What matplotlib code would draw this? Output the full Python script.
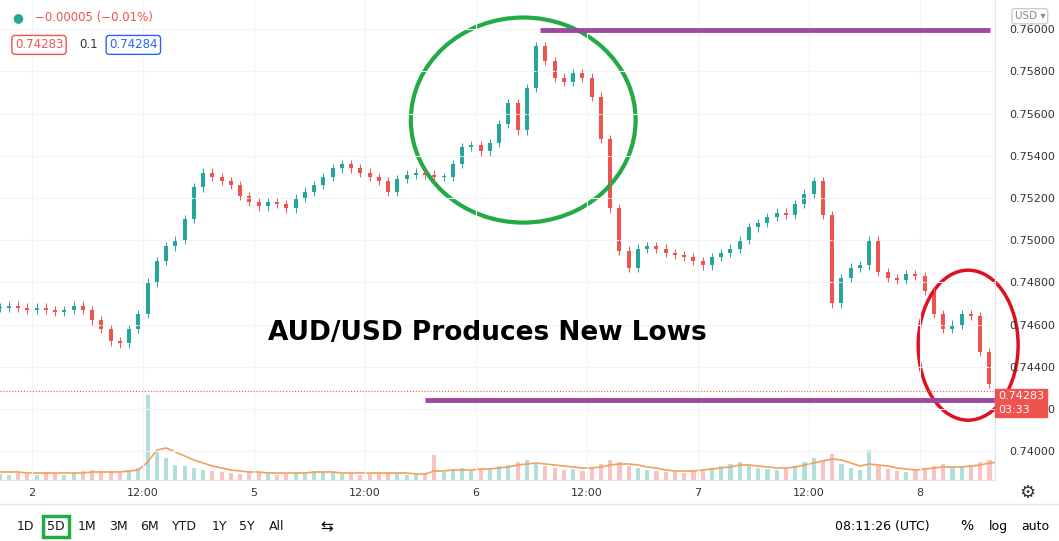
import matplotlib.pyplot as plt
from matplotlib.patches import Ellipse, Rectangle
import numpy as np

# hourly closes, first candle at hour -3.5 (hour 0 = day "2" 00:00)
closes = [.7468, .7469, .7468, .7467, .7468, .7467, .7466, .7467, .7469, .7467,
          .7462, .7458, .7452, .7451, .7458, .7465, .7480, .7490, .7497, .7500,
          .7510, .7525, .7532, .7530, .7528, .7526, .7521, .7518, .7516, .7518,
          .7517, .7515, .7520, .7523, .7526, .7530, .7534, .7536, .7534, .7532,
          .7530, .7528, .7523, .7529, .7531, .7532, .7531, .7530, .7530, .7536,
          .7544, .7545, .7542, .7546, .7555, .7565, .7552, .7572, .7592, .7585,
          .7577, .7575, .7579, .7577, .7568, .7548, .7515, .7495, .7487, .7496,
          .7497, .7496, .7494, .7493, .7492, .7490, .7488, .7492, .7494, .7496,
          .7500, .7506, .7508, .7511, .7513, .7512, .7517, .7522, .7528, .7512,
          .7470, .7482, .7487, .7488, .7500, .7485, .7482, .7481, .7484, .7483,
          .7476, .7465, .7458, .7460, .7465, .7464, .7447, .7432, .7428]
volume = [6, 5, 7, 6, 5, 8, 6, 5, 7, 9, 10, 8, 9, 7, 10, 12, 85, 28, 22, 15,
          14, 12, 10, 9, 8, 7, 6, 8, 7, 6, 5, 6, 7, 8, 9, 8, 7, 6, 6, 5,
          6, 7, 8, 6, 5, 5, 6, 25, 8, 10, 12, 9, 11, 10, 14, 15, 18, 20, 16, 14,
          12, 10, 11, 9, 12, 16, 20, 18, 14, 12, 10, 9, 8, 8, 7, 9, 10, 12, 14, 16,
          18, 14, 12, 11, 10, 12, 14, 18, 22, 20, 26, 16, 12, 10, 30, 14, 11, 9, 8, 10,
          12, 14, 16, 12, 13, 15, 18, 20, 22]
vol_ma = [8, 8, 8, 7, 7, 7, 7, 7, 7, 7, 8, 8, 8, 8, 9, 10, 18, 30, 32, 28,
          24, 20, 17, 14, 12, 10, 9, 8, 8, 7, 7, 7, 7, 7, 8, 8, 8, 7, 7, 7,
          7, 7, 7, 7, 7, 6, 6, 9, 9, 10, 10, 10, 11, 11, 12, 13, 15, 16, 17, 16,
          15, 14, 13, 12, 12, 13, 15, 16, 16, 15, 13, 12, 10, 9, 9, 9, 10, 11, 12, 13,
          15, 15, 14, 13, 12, 12, 13, 15, 17, 19, 21, 20, 17, 14, 16, 15, 14, 12, 11, 10,
          11, 12, 13, 13, 13, 14, 15, 17, 18]
x_ticks = [0, 12, 24, 36, 48, 60, 72, 84, 96]
x_labels = ['2', '12:00', '5', '12:00', '6', '12:00', '7', '12:00', '8']
y_ticks = [0.740, 0.742, 0.744, 0.746, 0.748, 0.750, 0.752, 0.754, 0.756, 0.758, 0.760]
last_price = 0.74283

up, down = '#26a69a', '#ef5350'
hours = -3.5 + np.arange(len(closes))
opens = [closes[0]] + closes[:-1]

fig = plt.figure(figsize=(10.59, 5.41), dpi=100)
ax = fig.add_axes([0, 61 / 541, 995 / 1059, 480 / 541])
vax = ax.twinx()
vax.set_ylim(0, 480)
vax.axis('off')
ax.set_zorder(vax.get_zorder() + 1)
ax.patch.set_visible(False)

for h, o, c, v in zip(hours, opens, closes, volume):
    col = up if c >= o else down
    ax.vlines(h, min(o, c) - 0.0002, max(o, c) + 0.0002, color=col, lw=0.7)
    ax.add_patch(Rectangle((h - 0.22, min(o, c)), 0.44, max(abs(c - o), 0.00003),
                           color=col, lw=0))
    vax.bar(h, v, width=0.45, color=col, alpha=0.35)
vax.plot(hours, vol_ma, color='#f0a060', lw=1.2)

ax.set_xlim(-3.46, 104.1)
ax.set_ylim(0.73863, 0.76138)
ax.set_xticks(x_ticks)
ax.set_xticklabels(x_labels)
ax.set_yticks(y_ticks)
ax.set_yticklabels(['%.5f' % t for t in y_ticks])
ax.yaxis.tick_right()
ax.tick_params(length=0, labelsize=8, labelcolor='#333333')
ax.tick_params(axis='y', pad=10)
ax.tick_params(axis='x', pad=6)
ax.grid(True, color='#f0f3fa', lw=0.8)
for s in ax.spines.values():
    s.set_color('#e0e3eb')
ax.spines['top'].set_visible(False)
ax.spines['left'].set_visible(False)

# annotations
ax.add_patch(Ellipse((53.1, 0.75569), 24.3, 0.00972, fill=False, ec='#22aa44', lw=3))
ax.add_patch(Ellipse((101.2, 0.74502), 10.8, 0.00711, fill=False, ec='#e01020', lw=2.5,
                     clip_on=False))
ax.hlines(0.75995, 54.9, 103.6, color='#9b4a9e', lw=3.5)
ax.hlines(0.74242, 42.5, 104.1, color='#9b4a9e', lw=3.5)
ax.axhline(last_price, color=down, ls=':', lw=0.8)
ax.text(49.2, 0.7456, 'AUD/USD Produces New Lows', fontsize=19, fontweight='bold',
        ha='center', va='center')
ax.text(1.003, last_price, '0.74283\n03:33', transform=ax.get_yaxis_transform(),
        ha='left', va='top', fontsize=8, color='white', linespacing=1.4,
        bbox=dict(boxstyle='square,pad=0.25', fc=down, ec=down))

# header
fig.text(0.012, 0.967, '●', color='#26a69a', fontsize=9, va='center')
fig.text(0.033, 0.967, '−0.00005 (−0.01%)', color=down, fontsize=8.5, va='center')
fig.text(0.014, 0.917, '0.74283', color=down, fontsize=8.5, va='center',
         bbox=dict(boxstyle='round,pad=0.25', fc='white', ec=down))
fig.text(0.075, 0.917, '0.1', color='#333333', fontsize=8.5, va='center')
fig.text(0.103, 0.917, '0.74284', color='#2962ff', fontsize=8.5, va='center',
         bbox=dict(boxstyle='round,pad=0.25', fc='white', ec='#2962ff'))
fig.text(0.958, 0.97, 'USD ▾', color='#888888', fontsize=7.5, va='center',
         bbox=dict(boxstyle='round,pad=0.25', fc='white', ec='#cccccc'))
fig.text(0.97, 0.088, '⚙', fontsize=13, ha='center', va='center', color='#333333')

# bottom toolbar
fig.add_artist(plt.Line2D([0, 1], [0.068, 0.068], color='#e0e3eb', lw=1))
ranges = ['1D', '5D', '1M', '3M', '6M', 'YTD', '1Y', '5Y', 'All']
xs = [25, 56, 87, 118, 149, 184, 219, 247, 277]
for r, xp in zip(ranges, xs):
    kw = {}
    if r == '5D':
        kw['bbox'] = dict(boxstyle='square,pad=0.3', fc='white', ec='#22aa44', lw=2.5)
    fig.text(xp / 1059, 0.027, r, fontsize=9, ha='center', va='center', color='#131722', **kw)
fig.text(327 / 1059, 0.027, '⇆', fontsize=11, ha='center', va='center')
fig.text(882 / 1059, 0.027, '08:11:26 (UTC)', fontsize=9, ha='center', va='center')
fig.text(967 / 1059, 0.027, '%', fontsize=10, ha='center', va='center')
fig.text(998 / 1059, 0.027, 'log', fontsize=9, ha='center', va='center')
fig.text(1035 / 1059, 0.027, 'auto', fontsize=9, ha='center', va='center')

fig.savefig('out.png', dpi=100)
